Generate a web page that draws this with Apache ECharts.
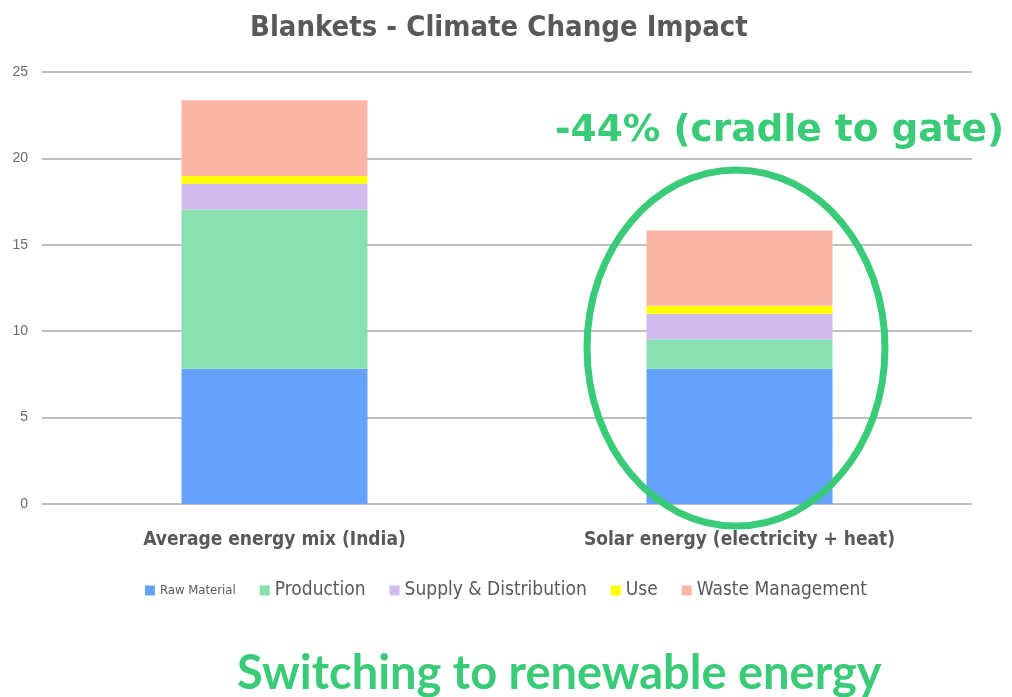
<!DOCTYPE html>
<html><head><meta charset="utf-8">
<script src="https://cdn.jsdelivr.net/npm/echarts@6/dist/echarts.min.js"></script>
<style>html,body{margin:0;padding:0;background:#fff}#c{width:1012px;height:697px}</style>
</head><body><div id="c"></div>
<script>
const categories = ['Average energy mix (India)', 'Solar energy (electricity + heat)'];
const seriesNames = ['Raw Material', 'Production', 'Supply & Distribution', 'Use', 'Waste Management'];
const rawMaterial = [7.83, 7.83];
const production = [9.22, 1.70];
const supplyDistribution = [1.49, 1.48];
const use = [0.44, 0.46];
const wasteManagement = [4.38, 4.36];
const yTicks = [0, 5, 10, 15, 20, 25];
const colors = ['#64a2fc', '#89e0b0', '#d2bbee', '#ffff00', '#fbb5a6'];
const values = [rawMaterial, production, supplyDistribution, use, wasteManagement];

const chart = echarts.init(document.getElementById('c'));
const narrow = '"Liberation Sans Narrow", "DejaVu Sans Condensed", sans-serif';
chart.setOption({
  animation: false,
  title: {
    text: 'Blankets - Climate Change Impact',
    left: 245, top: 9,
    textStyle: { fontFamily: narrow, fontWeight: 'bold', fontSize: 29, color: '#595959' }
  },
  legend: {
    bottom: 92, left: 'center',
    itemWidth: 10, itemHeight: 10, itemGap: 24,
    icon: 'rect',
    textStyle: { fontFamily: narrow, fontSize: 19, color: '#595959' },
    data: seriesNames.map((n, i) => i === 0 ? { name: n, textStyle: { fontSize: 13 } } : { name: n })
  },
  grid: { left: 42, right: 40, top: 72, bottom: 193 },
  xAxis: {
    type: 'category', data: categories,
    axisLine: { show: false }, axisTick: { show: false },
    axisLabel: { fontFamily: narrow, fontWeight: 'bold', fontSize: 19, color: '#595959', margin: 27 }
  },
  yAxis: {
    type: 'value', min: 0, max: 25, interval: 5,
    axisLine: { show: false }, axisTick: { show: false },
    axisLabel: { fontFamily: 'Liberation Sans, Arial, sans-serif', fontSize: 14, color: '#6b6b6b', margin: 14,
      formatter: v => yTicks.includes(v) ? String(v) : '' },
    splitLine: { lineStyle: { color: '#bfbfbf', width: 2 } }
  },
  series: seriesNames.map((n, i) => ({
    name: n, type: 'bar', stack: 'total', barWidth: '40%',
    data: values[i],
    itemStyle: { color: colors[i] }
  })),
  graphic: [
    { type: 'ellipse', shape: { cx: 736, cy: 348, rx: 149, ry: 178 },
      style: { fill: 'none', stroke: '#3acb79', lineWidth: 7 }, z: 100 },
    { type: 'text', left: 555, top: 112,
      style: { text: '-44% (cradle to gate)', fill: '#3acb79', font: 'bold 37.5px "DejaVu Sans", sans-serif' }, z: 100 },
    { type: 'text', left: 237, top: 650,
      style: { text: 'Switching to renewable energy', fill: '#3acb79', font: 'bold 47px Lato, sans-serif' }, z: 100 }
  ]
});
</script></body></html>
